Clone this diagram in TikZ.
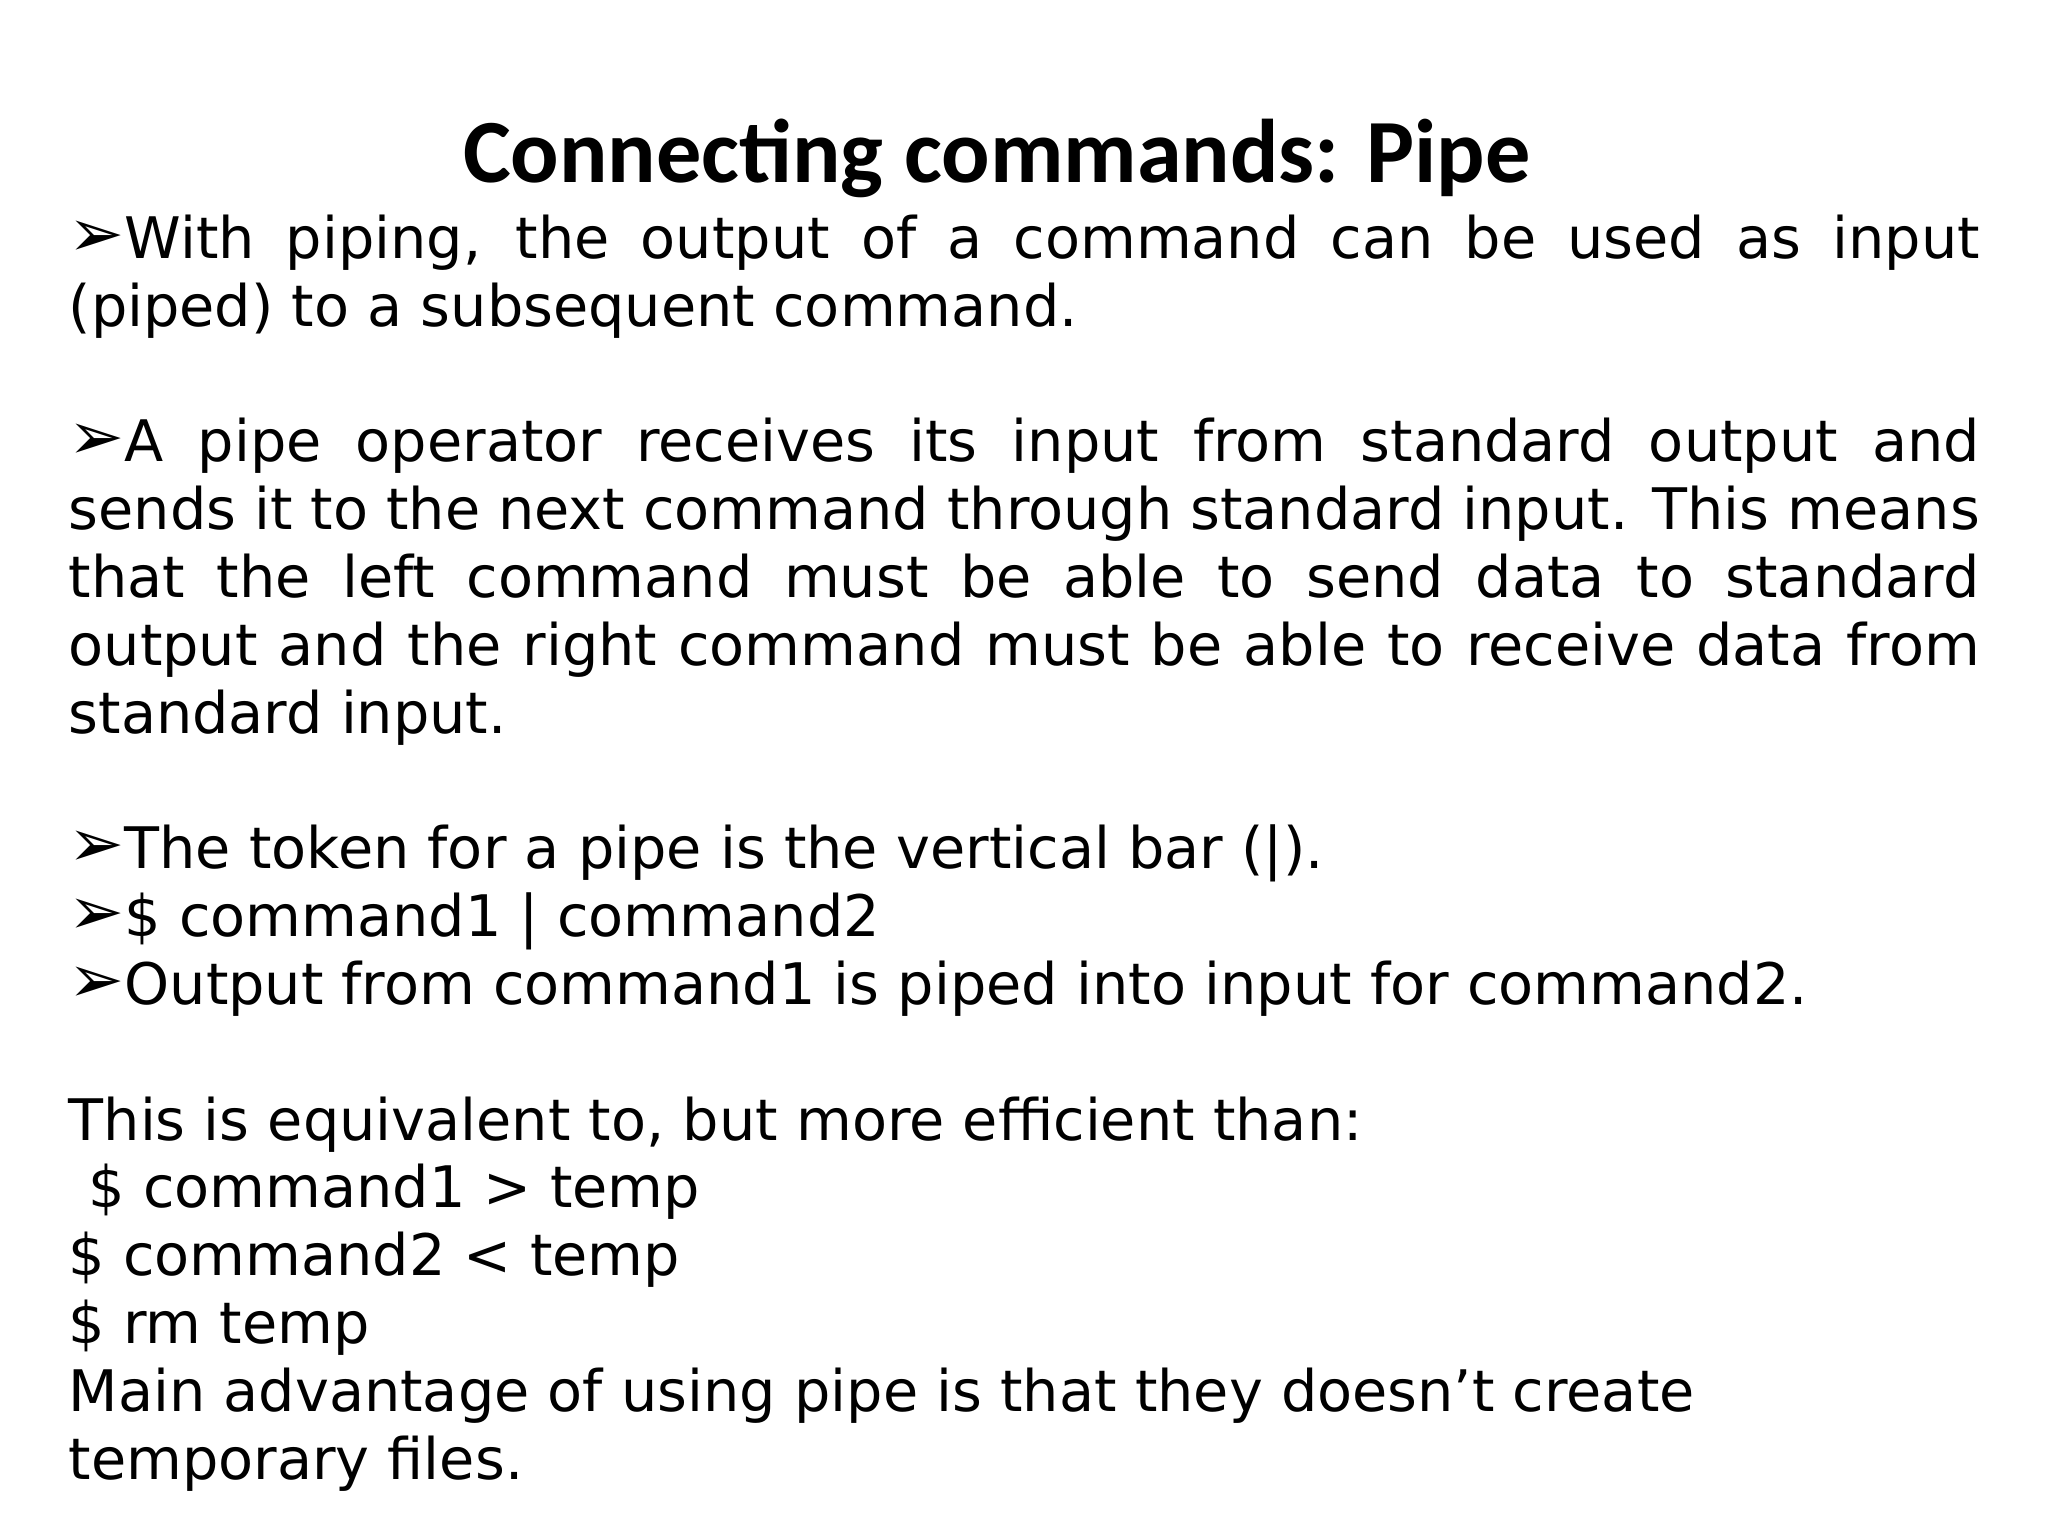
\documentclass[tikz,border=0pt]{standalone}
\usepackage{fontspec}
\setmainfont{DejaVu Sans}
\newfontfamily\titlefont{Carlito}
\usetikzlibrary{positioning}
\newcommand{\pbul}{{\fontsize{19}{19}\selectfont\raisebox{0.5pt}{➢}}}
\begin{document}
\begin{tikzpicture}[
     title/.style = {anchor=base, font=\titlefont\bfseries\fontsize{25.7}{30}\selectfont},
      body/.style = {anchor=north west, inner sep=0pt, text width=19.11cm,
                     align=justify, font=\fontsize{16.3}{19.3}\selectfont}
                        ]
\useasboundingbox (0,0) rectangle (20.48,-15.36);
\node (title) [title] at (9.97,-1.83) {Connecting commands: Pipe};
\node (text) [body] at (0.68,-2.14) {%
\pbul With piping, the output of a command can be used as input (piped) to a subsequent command.\par
\mbox{}\par
\pbul A pipe operator receives its input from standard output and\linebreak
sends it to the next command through standard input. This means\linebreak
that the left command must be able to send data to standard\linebreak
output and the right command must be able to receive data from\linebreak
standard input.\par
\mbox{}\par
\pbul The token for a pipe is the vertical bar (|).\\
\pbul\$ command1 | command2\\
\pbul Output from command1 is piped into input for command2.\par
\mbox{}\par
This is equivalent to, but more efficient than:\\
\hspace*{0.2cm}\$ command1 > temp\\
\$ command2 < temp\\
\$ rm temp\\
Main advantage of using pipe is that they doesn’t create\\
temporary files.};
\end{tikzpicture}
\end{document}
